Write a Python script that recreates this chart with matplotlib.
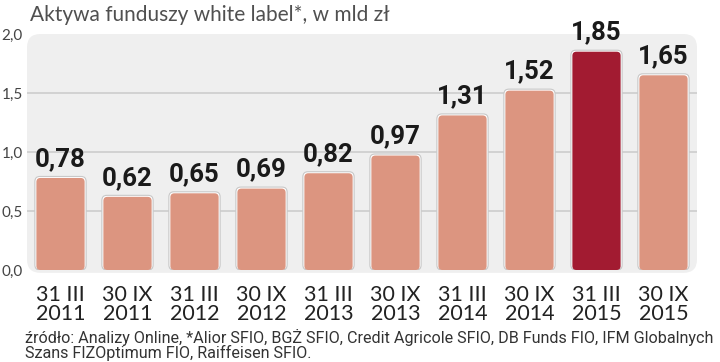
import matplotlib
matplotlib.use("Agg")
import matplotlib.pyplot as plt
from matplotlib.patches import FancyBboxPatch

categories = ["31 III\n2011", "30 IX\n2011", "31 III\n2012", "30 IX\n2012", "31 III\n2013",
              "30 IX\n2013", "31 III\n2014", "30 IX\n2014", "31 III\n2015", "30 IX\n2015"]
values = [0.78, 0.62, 0.65, 0.69, 0.82, 0.97, 1.31, 1.52, 1.85, 1.65]
value_labels = ["0,78", "0,62", "0,65", "0,69", "0,82", "0,97", "1,31", "1,52", "1,85", "1,65"]
highlight = 8
yticks = [0.0, 0.5, 1.0, 1.5, 2.0]
ytick_labels = ["0,0", "0,5", "1,0", "1,5", "2,0"]
title = "Aktywa funduszy white label*, w mld zł"
footnote = ("źródło: Analizy Online, *Alior SFIO, BGŻ SFIO, Credit Agricole SFIO, DB Funds FIO, IFM Globalnych\n"
            "Szans FIZOptimum FIO, Raiffeisen SFIO.")

W, H = 720, 362
fig = plt.figure(figsize=(W / 100, H / 100), dpi=100)
fig.patch.set_facecolor("white")
ax_l, ax_r, ax_b, ax_t = 27, 697, 270, 34
ax = fig.add_axes([ax_l / W, (H - ax_b) / H, (ax_r - ax_l) / W, (ax_b - ax_t) / H])
ax.set_xlim(-0.5, 9.5)
ax.set_ylim(0, 2.0)
ax.patch.set_visible(False)
for s in ax.spines.values():
    s.set_visible(False)

aw, ah = ax_r - ax_l, ax_b - ax_t
panel = FancyBboxPatch((0, -0.012), 1, 1.012, boxstyle="round,pad=0,rounding_size=0.02",
                       mutation_aspect=aw / ah, transform=ax.transAxes,
                       facecolor="#efefef", edgecolor="none", zorder=0, clip_on=False)
ax.add_patch(panel)

for yv in [0.5, 1.0, 1.5]:
    ax.axhline(yv, color="#d2d2d2", lw=1.4, zorder=1)

sal = "#dc9580"
red = "#a21b31"
bw = 0.72
xpx = aw / 10.0
ypx = ah / 2.0
bars = ax.bar(range(len(values)), values, width=bw, color="none", edgecolor="none")
for i, b in enumerate(bars):
    x0, y0, w, h = b.get_x(), b.get_y(), b.get_width(), b.get_height()
    col = red if i == highlight else sal
    outer = FancyBboxPatch((x0 - 1.5 / xpx, y0), w + 3 / xpx, h + 1.5 / ypx,
                           boxstyle="round,pad=0,rounding_size=%f" % (5 / xpx),
                           mutation_aspect=xpx / ypx, facecolor="white",
                           edgecolor="#c8c8c8", lw=0.8, zorder=2)
    inner = FancyBboxPatch((x0, y0), w, h, boxstyle="round,pad=0,rounding_size=%f" % (4 / xpx),
                           mutation_aspect=xpx / ypx, facecolor=col, edgecolor="none", zorder=3)
    ax.add_patch(outer)
    ax.add_patch(inner)
    ax.annotate(value_labels[i], (b.get_x() + w / 2, h), xytext=(0, 7), textcoords="offset pixels",
                ha="center", va="bottom", fontsize=18.5, fontweight="bold",
                family=["Roboto", "DejaVu Sans"], color="#1a1a1a", zorder=5)

ax.set_yticks(yticks)
ax.set_yticklabels(ytick_labels, fontsize=11, color="#444444", family=["Lato", "DejaVu Sans"])
ax.set_xticks(range(len(values)))
ax.set_xticklabels(categories, fontsize=15.5, color="#222222", family=["Lato", "DejaVu Sans"],
                   linespacing=0.95)
ax.tick_params(axis="both", length=0)
ax.tick_params(axis="y", pad=3)
ax.tick_params(axis="x", pad=11)

fig.text(30 / W, 1 - 15 / H, title, fontsize=15, fontweight="normal", color="#505050",
         family=["Lato", "DejaVu Sans"], va="center", ha="left")
fig.text(25 / W, 1 - 345 / H, footnote, fontsize=11.6, color="#333333",
         family=["Roboto", "DejaVu Sans"], va="center", ha="left", linespacing=0.92)

fig.savefig("out.png", dpi=100)
